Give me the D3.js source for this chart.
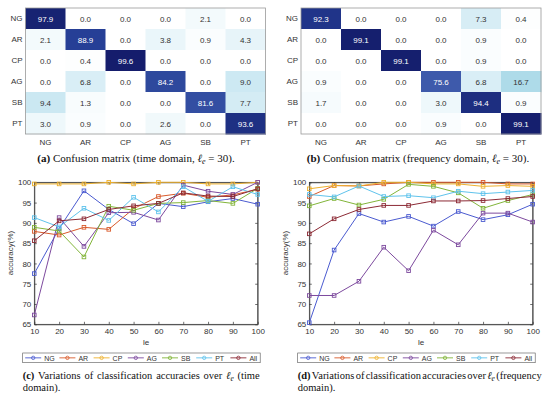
<!DOCTYPE html>
<html>
<head>
<meta charset="utf-8">
<script src="https://cdn.jsdelivr.net/npm/d3@7"></script>
<style>
body { margin: 0; background: #fff; }
svg { display: block; }
.axis text { font-family: "Liberation Sans", Arial, sans-serif; font-size: 8px; fill: #333; }
.axis path, .axis line { stroke: #333; stroke-width: 0.7; }
.cap { font-family: "Liberation Serif", "Times New Roman", serif; font-size: 11px; fill: #111; }
.cap2 { font-family: "Liberation Serif", "Times New Roman", serif; font-size: 10.5px; fill: #111; }
</style>
</head>
<body>
<div class="chart"></div>
<script>
// confusion matrices (rows = true class, cols = predicted)
let classes = ["NG", "AR", "CP", "AG", "SB", "PT"];
let cmTime = [
  [97.9, 0.0, 0.0, 0.0, 2.1, 0.0],
  [2.1, 88.9, 0.0, 3.8, 0.9, 4.3],
  [0.0, 0.4, 99.6, 0.0, 0.0, 0.0],
  [0.0, 6.8, 0.0, 84.2, 0.0, 9.0],
  [9.4, 1.3, 0.0, 0.0, 81.6, 7.7],
  [3.0, 0.9, 0.0, 2.6, 0.0, 93.6]
];
let cmFreq = [
  [92.3, 0.0, 0.0, 0.0, 7.3, 0.4],
  [0.0, 99.1, 0.0, 0.0, 0.9, 0.0],
  [0.0, 0.0, 99.1, 0.0, 0.9, 0.0],
  [0.9, 0.0, 0.0, 75.6, 6.8, 16.7],
  [1.7, 0.0, 0.0, 3.0, 94.4, 0.9],
  [0.0, 0.0, 0.0, 0.9, 0.0, 99.1]
];

// accuracy vs le
let le = [10, 20, 30, 40, 50, 60, 70, 80, 90, 100];
let seriesNames = ["NG", "AR", "CP", "AG", "SB", "PT", "All"];
let seriesColors = ["#4b5bd0", "#d95a2b", "#eeb12e", "#7d4a9e", "#82b53a", "#5fc3ec", "#8c2a35"];
let accTime = [
  [77.5, 88.6, 97.9, 93.3, 89.8, 94.8, 94.0, 95.2, 96.0, 94.6],
  [87.9, 87.0, 88.9, 88.4, 93.5, 96.5, 97.3, 96.3, 96.9, 98.3],
  [99.6, 99.6, 99.6, 100, 99.6, 100, 100, 99.6, 99.6, 100],
  [67.3, 91.3, 84.2, 92.5, 92.6, 90.7, 99.3, 97.8, 97.0, 100],
  [88.9, 88.0, 81.6, 94.1, 93.1, 94.8, 95.0, 95.5, 94.8, 98.5],
  [91.3, 89.0, 93.6, 90.6, 96.3, 92.7, 98.9, 95.3, 98.9, 97.0],
  [85.6, 90.5, 91.0, 93.3, 94.2, 94.8, 97.4, 96.6, 96.5, 98.4]
];
let accFreq = [
  [65.4, 83.3, 92.3, 90.2, 91.6, 89.2, 92.8, 90.8, 92.0, 94.6],
  [96.5, 99.2, 99.1, 99.6, 100, 100, 100, 100, 99.6, 99.6],
  [98.4, 99.2, 99.1, 100, 100, 99.6, 99.6, 99.0, 99.2, 99.0],
  [72.1, 72.1, 75.6, 84.0, 78.2, 88.2, 84.6, 92.4, 92.4, 90.2],
  [94.2, 96.0, 94.4, 95.8, 99.5, 99.0, 97.4, 93.6, 95.5, 97.0],
  [97.0, 96.4, 99.1, 96.5, 96.7, 96.2, 97.8, 97.2, 97.6, 98.0],
  [87.3, 91.0, 93.3, 94.3, 94.3, 95.4, 95.4, 95.5, 96.0, 96.5]
];
let yTicks = [65, 70, 75, 80, 85, 90, 95, 100];

let svg = d3.select(".chart").append("svg")
  .attr("width", 550)
  .attr("height", 397);

let cellColor = d3.scaleLinear()
  .domain([0, 9.4, 16.7, 75.6, 88.9, 100])
  .range(["#ffffff", "#cbe8f2", "#aedbe9", "#3e5aab", "#263f96", "#141c6a"]);

function drawMatrix(left, values) {
  let g = svg.append("g");
  let x = d3.scaleBand().domain(classes).range([left, left + 240]);
  let y = d3.scaleBand().domain(classes).range([8, 134]);

  let cells = [];
  values.forEach((row, i) => row.forEach((v, j) => cells.push({ r: classes[i], c: classes[j], v: v })));

  g.selectAll(".cell").data(cells).enter().append("rect")
    .attr("x", d => x(d.c))
    .attr("y", d => y(d.r))
    .attr("width", x.bandwidth() + 0.5)
    .attr("height", y.bandwidth() + 0.5)
    .attr("fill", d => cellColor(d.v));

  g.selectAll(".val").data(cells).enter().append("text")
    .attr("x", d => x(d.c) + x.bandwidth() / 2)
    .attr("y", d => y(d.r) + y.bandwidth() / 2 + 3)
    .attr("text-anchor", "middle")
    .style("font-family", "Liberation Sans, Arial, sans-serif")
    .style("font-size", "8px")
    .attr("fill", d => d.v > 50 ? "#fff" : "#333")
    .text(d => d.v.toFixed(1));

  g.append("rect")
    .attr("x", left).attr("y", 8).attr("width", 240).attr("height", 126)
    .attr("fill", "none").attr("stroke", "#999").attr("stroke-width", 0.8);

  g.append("g").attr("class", "axis")
    .attr("transform", "translate(0,134)")
    .call(d3.axisBottom(x).tickSize(0).tickPadding(5))
    .call(a => a.select(".domain").remove());
  g.append("g").attr("class", "axis")
    .attr("transform", "translate(" + left + ",0)")
    .call(d3.axisLeft(y).tickSize(0).tickPadding(3))
    .call(a => a.select(".domain").remove());
}

function drawLines(left, data) {
  let g = svg.append("g");
  let x = d3.scaleLinear().domain([10, 100]).range([left, left + 223.4]);
  let y = d3.scaleLinear().domain([65, 100]).range([324.3, 182.3]);

  g.append("rect")
    .attr("x", left).attr("y", 182.3).attr("width", 223.4).attr("height", 142)
    .attr("fill", "none").attr("stroke", "#333").attr("stroke-width", 0.7);

  g.append("g").attr("class", "axis")
    .attr("transform", "translate(0,324.3)")
    .call(d3.axisBottom(x).tickValues(le).tickSizeInner(-2.5).tickSizeOuter(0).tickPadding(4));
  g.append("g").attr("class", "axis")
    .attr("transform", "translate(0,182.3)")
    .call(d3.axisTop(x).tickValues(le).tickSizeInner(-2.5).tickSizeOuter(0).tickFormat(""));
  g.append("g").attr("class", "axis")
    .attr("transform", "translate(" + left + ",0)")
    .call(d3.axisLeft(y).tickValues(yTicks).tickSizeInner(-2.5).tickSizeOuter(0).tickPadding(3));
  g.append("g").attr("class", "axis")
    .attr("transform", "translate(" + (left + 223.4) + ",0)")
    .call(d3.axisRight(y).tickValues(yTicks).tickSizeInner(-2.5).tickSizeOuter(0).tickFormat(""));

  let line = d3.line().x((d, i) => x(le[i])).y(d => y(d));

  data.forEach((vals, k) => {
    g.append("path")
      .attr("d", line(vals))
      .attr("fill", "none")
      .attr("stroke", seriesColors[k])
      .attr("stroke-width", 1);
    g.selectAll(".m" + k).data(vals).enter().append("rect")
      .attr("x", (d, i) => x(le[i]) - 1.8)
      .attr("y", d => y(d) - 1.8)
      .attr("width", 3.6).attr("height", 3.6)
      .attr("fill", "none")
      .attr("stroke", seriesColors[k])
      .attr("stroke-width", 0.9);
  });

  g.append("text")
    .attr("transform", "translate(" + (left - 21) + ",253) rotate(-90)")
    .attr("text-anchor", "middle")
    .style("font-family", "Liberation Sans, Arial, sans-serif")
    .style("font-size", "8px").attr("fill", "#333")
    .text("accuracy(%)");
  g.append("text")
    .attr("x", left + 111.7).attr("y", 345)
    .attr("text-anchor", "middle")
    .style("font-family", "Liberation Sans, Arial, sans-serif")
    .style("font-size", "8px").attr("fill", "#333")
    .text("le");

  // legend
  let lx = left - 11.6;
  let lg = g.append("g").attr("transform", "translate(" + lx + ",353)");
  lg.append("rect").attr("width", 237.5).attr("height", 9.7)
    .attr("fill", "#fff").attr("stroke", "#555").attr("stroke-width", 0.6);
  seriesNames.forEach((name, k) => {
    let ox = 2.5 + k * 34.2;
    lg.append("line").attr("x1", ox).attr("x2", ox + 16).attr("y1", 4.85).attr("y2", 4.85)
      .attr("stroke", seriesColors[k]).attr("stroke-width", 0.9);
    lg.append("circle").attr("cx", ox + 8).attr("cy", 4.85).attr("r", 1.7)
      .attr("fill", "none").attr("stroke", seriesColors[k]).attr("stroke-width", 0.8);
    lg.append("text").attr("x", ox + 19).attr("y", 7.5)
      .style("font-family", "Liberation Sans, Arial, sans-serif")
      .style("font-size", "7px").attr("fill", "#333")
      .text(name);
  });
}

function ell(t, size) {
  t.append("tspan").style("font-style", "italic").text("ℓ");
  t.append("tspan").style("font-style", "italic").style("font-size", size + "px").attr("dy", 2).text("e");
}

function centerCaption(cx, letter, domain) {
  let t = svg.append("text").attr("class", "cap").attr("x", cx).attr("y", 162).attr("text-anchor", "middle");
  t.append("tspan").style("font-weight", "bold").text("(" + letter + ")");
  t.append("tspan").text(" Confusion matrix (" + domain + " domain, ");
  ell(t, 8);
  t.append("tspan").attr("dy", -2).text(" = 30).");
}

// first line justified: each word is its own text, gaps spread evenly
function lineCaption(left, width, letter, word) {
  let words = ["(" + letter + ")", "Variations", "of", "classification", "accuracies", "over", "ELL", "(" + word];
  let nodes = words.map((w, i) => {
    let t = svg.append("text").attr("class", "cap2").attr("y", 379);
    if (w === "ELL") ell(t, 7.5);
    else t.text(w);
    if (i === 0) t.style("font-weight", "bold");
    return t;
  });
  let widths = nodes.map(t => t.node().getComputedTextLength());
  let gap = (width - d3.sum(widths)) / (words.length - 1);
  let cx = left;
  nodes.forEach((t, i) => {
    t.attr("x", cx);
    cx += widths[i] + gap;
  });
  svg.append("text").attr("class", "cap2").attr("x", left).attr("y", 391).text("domain).");
}

drawMatrix(25.5, cmTime);
drawMatrix(301, cmFreq);
drawLines(34.3, accTime);
drawLines(309.3, accFreq);
centerCaption(136, "a", "time");
centerCaption(418, "b", "frequency");
lineCaption(22.7, 237, "c", "time");
lineCaption(297.7, 244, "d", "frequency");
</script>
</body>
</html>
